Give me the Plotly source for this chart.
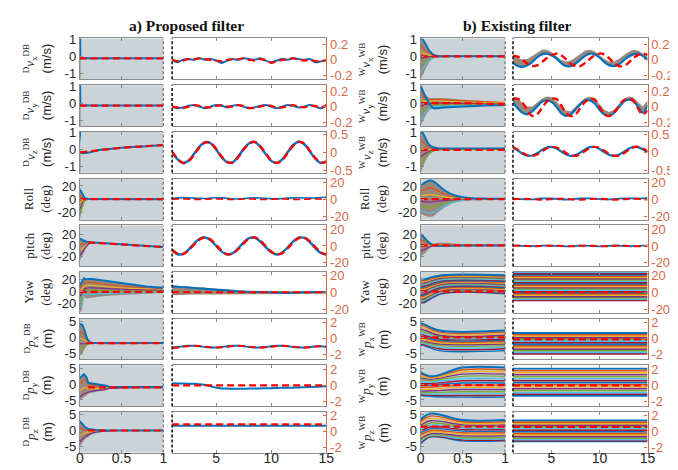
import plotly.graph_objects as go

# ======================= DATA =======================
TR = [1, 1.5, 2, 2.5, 3, 3.5, 4, 4.5, 5, 5.5, 6, 6.5, 7, 7.5, 8, 8.5, 9, 9.5, 10,
      10.5, 11, 11.5, 12, 12.5, 13, 13.5, 14, 14.5, 15]
T_FLAT_R = [1, 15]
T_FLAT_L = [0, 1]

row_left_range = [[-1.35, 1.05], [-1.35, 1.05], [-1.35, 1.05], [-31, 31], [-38, 36],
                  [-36, 33], [-7, 6], [-7, 6], [-7, 6]]
row_left_ticks = [[-1, 0, 1]] * 3 + [[-20, 0, 20]] * 3 + [[-5, 0, 5]] * 3
row_left_ticktext = [["-1", "0", "1"]] * 3 + [["-20", "0", "20"]] * 3 + [["-5", "0", "5"]] * 3
row_right_range = [[-0.25, 0.275], [-0.25, 0.275], [-0.58, 0.58], [-24, 24], [-25, 25],
                   [-24, 24], [-2.6, 2.5], [-2.6, 2.5], [-2.6, 2.5]]
row_right_ticks = [[-0.2, 0, 0.2]] * 2 + [[-0.5, 0, 0.5]] + [[-20, 0, 20]] * 3 + [[-2, 0, 2]] * 3
row_right_ticktext = [["-0.2", "0", "0.2"]] * 2 + [["-0.5", "0", "0.5"]] + \
                     [["-20", "0", "20"]] * 3 + [["-2", "0", "2"]] * 3
x_left_ticks = [0, 0.5, 1]
x_left_ticktext = ["0", "0.5", "1"]
x_right_ticks = [5, 10, 15]
x_right_ticktext = ["5", "10", "15"]

ylab_a = ["<sup>D</sup><i>v</i><sub>x</sub><sup>DB</sup>", "<sup>D</sup><i>v</i><sub>y</sub><sup>DB</sup>",
          "<sup>D</sup><i>v</i><sub>z</sub><sup>DB</sup>", "Roll", "pitch", "Yaw",
          "<sup>D</sup><i>p</i><sub>x</sub><sup>DB</sup>", "<sup>D</sup><i>p</i><sub>y</sub><sup>DB</sup>",
          "<sup>D</sup><i>p</i><sub>z</sub><sup>DB</sup>"]
ylab_b = ["<sup>W</sup><i>v</i><sub>x</sub><sup>WB</sup>", "<sup>W</sup><i>v</i><sub>y</sub><sup>WB</sup>",
          "<sup>W</sup><i>v</i><sub>z</sub><sup>WB</sup>", "Roll", "pitch", "Yaw",
          "<sup>W</sup><i>p</i><sub>x</sub><sup>WB</sup>", "<sup>W</sup><i>p</i><sub>y</sub><sup>WB</sup>",
          "<sup>W</sup><i>p</i><sub>z</sub><sup>WB</sup>"]
ylab_unit = ["(m/s)", "(m/s)", "(m/s)", "(deg)", "(deg)", "(deg)", "(m)", "(m)", "(m)"]
titles = ["a) Proposed filter", "b) Existing filter"]

# ---------- a) proposed filter, 0..1 s ----------
a_vx_t = [0, 0.004, 0.007, 1]
a_vx_blue = [1.05, 1.05, -0.12, -0.12]
a_vx_fan_t = [0, 0.009]
a_vx_fan_hi = [-0.12, -0.12]
a_vx_fan_lo = [-1.35, -1.35]
a_vx_red = [-0.12, -0.12]

a_vy_t = [0, 0.004, 0.007, 1]
a_vy_blue = [1.05, 1.05, -0.15, -0.15]
a_vy_fan_hi = [-0.15, -0.15]
a_vy_fan_lo = [-1.35, -1.35]
a_vy_red = [-0.15, -0.15]

a_vz_t = [0, 0.004, 0.007, 0.25, 0.5, 0.75, 1]
a_vz_blue = [1.05, 1.05, -0.15, 0.0, 0.12, 0.2, 0.28]
a_vz_fan_hi = [-0.15, -0.15]
a_vz_fan_lo = [-1.35, -1.35]

a_roll_t = [0, 0.02, 0.04, 0.06, 0.1, 1]
a_roll_hi = [15, 10, 5, 1.5, 0.3, 0]
a_roll_lo = [-30, -20, -10, -3, -0.3, 0]
a_roll_p = [[5, 3, 1.5, 0.5, 0, 0], [-5, -3, -1.5, -0.5, 0, 0],
            [-15, -10, -5, -1.5, -0.1, 0], [-22, -15, -7, -2, -0.2, 0]]

a_pitch_t = [0, 0.03, 0.07, 0.12, 0.5, 1]
a_pitch_blue = [12, 10, 7, 5.5, 2, -3]
a_pitch_fan_t = [0, 0.03, 0.07, 0.12]
a_pitch_hi = [12, 10, 7, 5.5]
a_pitch_lo = [-28, -20, -6, 4]
a_pitch_p = [[2, 2, 3, 5], [-8, -6, 0, 4.8], [-18, -13, -3, 4.4]]
a_pitch_red_t = [0.1, 0.5, 1]
a_pitch_red = [5.5, 2, -3]

a_yaw_t = [0, 0.02, 0.04, 0.05, 0.07, 0.1, 0.15, 0.2, 0.3, 0.4, 0.5, 0.6, 0.7, 0.8, 0.9, 1]
a_yaw_hi = [10, 14, 18, 22, 20, 21, 21, 20, 17, 15, 13, 11, 9.5, 8, 7, 6]
a_yaw_lo = [-36, -32, -20, -8, -12, -12, -11, -10, -8, -7, -6, -5, -4.5, -4, -3.5, -3]
a_yaw_p = [[5, 8, 12, 14, 14, 15, 15, 14, 12, 10.5, 9, 8, 7, 6, 5, 4.5],
           [0, 3, 6, 9, 9, 10, 10, 9.5, 8, 7, 6, 5, 4.5, 4, 3.5, 3],
           [-8, -5, 0, 3, 5, 6, 6, 5.5, 5, 4, 3.5, 3, 2.5, 2, 2, 1.5],
           [-15, -12, -6, 0, 1, 2, 2, 2, 1.5, 1, 1, 0.5, 0.5, 0.5, 0.5, 0.5],
           [-25, -22, -12, -4, -5, -5, -5, -4.5, -4, -3.5, -3, -2.5, -2.2, -2, -1.8, -1.5]]
a_yaw_red = [-1, -1]

a_px_t = [0, 0.03, 0.06, 0.09, 0.12, 0.15, 1]
a_px_hi = [4.3, 4.0, 2.0, -0.5, -1.5, -1.8, -1.8]
a_px_lo = [-5.8, -5, -3.5, -2.5, -2.0, -1.8, -1.8]
a_px_p = [[2, 1.5, 0.5, -1, -1.6, -1.8, -1.8], [0, -0.5, -1, -1.5, -1.8, -1.8, -1.8],
          [-2, -2, -2, -2, -1.9, -1.8, -1.8], [-4, -3.5, -2.8, -2.2, -1.9, -1.8, -1.8]]
a_px_red_t = [0.08, 1]
a_px_red = [-1.8, -1.8]

a_py_t = [0, 0.03, 0.05, 0.08, 0.1, 0.15, 0.2, 0.3, 0.32, 0.35, 0.5, 1]
a_py_hi = [2, 2.8, 3.2, 2.2, 0.5, 0.2, 0.0, -0.2, -0.5, -0.8, -0.9, -0.9]
a_py_lo = [-5, -4.5, -4, -3.5, -3, -2.6, -2.4, -2, -1.8, -1.5, -1.3, -1.1]
a_py_p = [[0, 1, 1.5, 1, 0, -0.3, -0.5, -0.6, -0.8, -0.9, -1.0, -1.0],
          [-2, -1.5, -1.2, -1.2, -1.5, -1.5, -1.4, -1.2, -1.1, -1.1, -1.1, -1.0],
          [-4, -3.5, -3, -2.8, -2.5, -2.2, -2.0, -1.7, -1.5, -1.3, -1.2, -1.1]]
a_py_red_t = [0.1, 1]
a_py_red = [-1.0, -1.0]

a_pz_t = [0, 0.03, 0.06, 0.1, 0.15, 0.2, 0.3, 0.5, 1]
a_pz_hi = [3, 2.2, 1.2, 0.5, 0.3, 0.15, 0.05, 0, 0]
a_pz_lo = [-5, -4, -2.8, -2, -1.2, -0.7, -0.3, -0.1, 0]
a_pz_p = [[1, 0.5, 0.2, 0, 0, 0, 0, 0, 0], [-1.5, -1.2, -0.8, -0.5, -0.3, -0.2, -0.1, 0, 0],
          [-3.5, -2.8, -2, -1.4, -0.8, -0.5, -0.2, -0.05, 0]]
a_pz_red_t = [0.1, 1]
a_pz_red = [0, 0]

# ---------- a) proposed filter, 1..15 s ----------
a_vx_r_blue = [0.0, -0.03, 0.0, 0.01, 0.0, 0.02, 0.0, 0.01, -0.01, -0.04, -0.01, 0.01, 0.0, 0.02, 0.01,
               0.0, 0.02, -0.01, -0.03, -0.01, 0.01, 0.0, 0.02, 0.01, 0.0, 0.01, -0.03, -0.02, 0.0]
a_vx_r_red = [0.0, -0.02, -0.01, 0.01, 0.01, 0.02, 0.01, 0.0, -0.01, -0.02, 0.0, 0.01, 0.01, 0.02, 0.0,
              -0.01, 0.01, 0.0, -0.04, -0.02, 0.0, 0.01, 0.02, 0.0, -0.01, 0.0, -0.02, -0.03, 0.0]
a_vy_r_blue = [0.0, -0.02, -0.01, 0.01, 0.02, 0.0, -0.02, 0.0, 0.02, 0.01, -0.01, 0.01, 0.02, 0.0, -0.02,
               -0.01, 0.01, 0.02, 0.0, -0.02, 0.0, 0.02, 0.01, -0.01, 0.0, 0.02, 0.0, -0.02, 0.01]
a_vy_r_red = [0.0, -0.01, -0.02, 0.0, 0.02, 0.01, -0.01, -0.01, 0.01, 0.02, 0.0, 0.0, 0.02, 0.01, -0.02,
              -0.02, 0.0, 0.02, 0.01, -0.02, -0.01, 0.01, 0.02, 0.0, -0.01, 0.01, 0.01, -0.02, 0.02]
a_vz_r_blue = [0.0, -0.20, -0.30, -0.23, -0.04, 0.17, 0.29, 0.26, 0.08, -0.14, -0.28, -0.28, -0.12, 0.10,
               0.26, 0.29, 0.16, -0.05, -0.24, -0.30, -0.20, 0.01, 0.21, 0.30, 0.23, 0.03, -0.18, -0.30, -0.25]
a_vz_r_red = [0.02, -0.18, -0.30, -0.25, -0.06, 0.15, 0.28, 0.27, 0.10, -0.12, -0.27, -0.29, -0.14, 0.08,
              0.25, 0.30, 0.18, -0.03, -0.22, -0.30, -0.22, -0.01, 0.19, 0.30, 0.25, 0.05, -0.16, -0.29, -0.27]
a_roll_r_blue = [1.0, 1.5, 1.8, 1.5, 1.2, 1.0, 0.8, 1.2, 1.6, 1.5, 1.0, 0.5, 0.3, 0.8, 1.2, 1.5, 1.4, 1.0,
                 0.6, 0.4, 0.8, 1.2, 1.5, 1.6, 1.4, 1.2, 1.5, 2.0, 2.2]
a_roll_r_red = [0.0, 0.2, 0.3, 0.1, -0.2, -0.3, -0.1, 0.2, 0.3, 0.1, -0.2, -0.3, -0.1, 0.2, 0.3, 0.1, -0.2,
                -0.3, -0.1, 0.2, 0.3, 0.1, -0.2, -0.3, -0.1, 0.2, 0.3, 0.1, -0.2]
a_pitch_r_blue = [-5.7, -10.1, -9.6, -4.4, 3.0, 8.8, 10.4, 6.9, 0.0, -6.9, -10.4, -8.8, -2.9, 4.4, 9.6,
                  10.1, 5.4, -1.5, -7.7, -10.5, -8.0, -1.6, 5.5, 10.0, 9.8, 4.7, -2.6, -8.6, -10.4]
a_pitch_r_red = [-4.5, -9.5, -10.0, -5.5, 1.8, 8.0, 10.4, 7.8, 1.2, -5.8, -10.0, -9.4, -4.0, 3.2, 9.0,
                 10.4, 6.5, -0.3, -6.8, -10.3, -8.8, -2.8, 4.5, 9.6, 10.2, 5.8, -1.4, -7.8, -10.4]
a_yaw_r_hi = [8, 7.5, 7, 6.5, 6, 5.5, 5, 4.5, 4, 3.5, 3, 2.6, 2.2, 2, 1.8, 1.6, 1.5, 1.5, 1.4, 1.3, 1.2,
              1.2, 1.2, 1.1, 1.0, 1.0, 1.0, 1.0, 1.0]
a_yaw_r_lo = [-3.5, -3.4, -3.2, -3, -2.8, -2.6, -2.5, -2.4, -2.3, -2.2, -2.1, -2, -2, -1.9, -1.9, -1.8,
              -1.8, -1.8, -1.8, -1.8, -1.8, -1.8, -1.8, -1.8, -1.8, -1.8, -1.8, -1.8, -1.8]
a_yaw_r_blue = [7, 6.5, 6, 5.5, 5, 4.5, 4, 3.5, 3, 2.5, 2, 1.5, 1, 0.5, 0.2, 0.0, 0.3, 0.2, -0.3, -0.6,
                -0.8, -1.0, -0.8, -0.3, 0.0, 0.0, 0.3, 0.2, 0.0]
a_yaw_r_red = [0, 0]
a_px_r_blue = [-1.1, -1.05, -0.95, -0.9, -0.9, -0.95, -1.05, -1.1, -1.1, -1.05, -0.95, -0.9, -0.9, -0.95,
               -1.05, -1.1, -1.1, -1.05, -0.95, -0.9, -0.9, -0.95, -1.05, -1.1, -1.1, -1.05, -0.95, -0.95, -1.0]
a_px_r_red = [-1.15, -1.1, -1.0, -0.92, -0.88, -0.92, -1.0, -1.08, -1.12, -1.08, -1.0, -0.92, -0.88, -0.92,
              -1.0, -1.08, -1.12, -1.08, -1.0, -0.92, -0.88, -0.92, -1.0, -1.08, -1.12, -1.08, -1.0, -0.95, -1.0]
a_py_r_blue = [0.25, 0.25, 0.22, 0.2, 0.2, 0.15, 0.05, -0.1, -0.3, -0.38, -0.4, -0.42, -0.42, -0.42, -0.4,
               -0.4, -0.38, -0.36, -0.35, -0.32, -0.3, -0.3, -0.28, -0.25, -0.22, -0.2, -0.18, -0.15, -0.12]
a_py_r_red = [0, 0]
a_pz_r_blue = [0.75, 0.75]
a_pz_r_red = [0.9, 0.9]

# ---------- b) existing filter, 0..1 s ----------
b_vx_t = [0, 0.03, 0.06, 0.1, 0.15, 0.2, 0.3, 0.5, 1]
b_vx_hi = [1.1, 0.85, 0.55, 0.3, 0.12, 0.05, 0.02, 0.01, 0.0]
b_vx_lo = [-1.35, -1.0, -0.7, -0.35, -0.12, -0.05, -0.02, -0.01, 0]
b_vx_blue = [1.1, 0.95, 0.7, 0.35, 0.1, 0.02, 0.0, 0.0, 0.0]
b_vx_p = [[0.7, 0.5, 0.33, 0.18, 0.07, 0.03, 0.01, 0, 0], [0.3, 0.2, 0.14, 0.08, 0.03, 0.01, 0, 0, 0],
          [-0.1, -0.08, -0.05, -0.03, -0.01, 0, 0, 0, 0], [-0.5, -0.38, -0.25, -0.13, -0.05, -0.02, 0, 0, 0],
          [-0.9, -0.7, -0.48, -0.25, -0.09, -0.03, -0.01, 0, 0]]
b_vx_red = [0, 0]

b_vy_t = [0, 0.05, 0.1, 0.15, 0.2, 0.3, 0.5, 0.75, 1]
b_vy_hi = [1.0, 0.55, 0.3, 0.3, 0.3, 0.28, 0.2, 0.12, 0.05]
b_vy_lo = [-1.3, -0.8, -0.4, -0.3, -0.28, -0.25, -0.2, -0.15, -0.12]
b_vy_blue = [1.0, 0.45, 0.0, -0.3, -0.3, -0.25, -0.2, -0.15, -0.12]
b_vy_p = [[0.6, 0.3, 0.2, 0.22, 0.22, 0.2, 0.14, 0.08, 0.02], [0.2, 0.1, 0.1, 0.12, 0.12, 0.1, 0.06, 0.02, -0.02],
          [-0.2, -0.1, -0.05, 0.0, 0.0, 0.0, -0.02, -0.04, -0.06],
          [-0.6, -0.35, -0.2, -0.12, -0.12, -0.1, -0.1, -0.08, -0.08],
          [-1.0, -0.6, -0.32, -0.22, -0.2, -0.18, -0.15, -0.12, -0.1]]
b_vy_red_t = [0, 0.5, 1]
b_vy_red = [0, 0, -0.08]

b_vz_t = [0, 0.03, 0.06, 0.1, 0.15, 0.2, 0.3, 0.5, 1]
b_vz_hi = [1.1, 0.9, 0.6, 0.3, 0.15, 0.1, 0.08, 0.08, 0.08]
b_vz_lo = [-1.35, -1.0, -0.6, -0.3, -0.1, -0.02, 0.0, 0.0, 0.0]
b_vz_blue = [1.1, 0.95, 0.65, 0.3, 0.15, 0.1, 0.08, 0.08, 0.08]
b_vz_p = [[0.6, 0.45, 0.3, 0.15, 0.08, 0.06, 0.05, 0.05, 0.05], [0.1, 0.05, 0.02, 0.0, 0.02, 0.03, 0.03, 0.03, 0.03],
          [-0.4, -0.3, -0.2, -0.1, -0.02, 0.01, 0.02, 0.02, 0.02],
          [-0.9, -0.7, -0.42, -0.2, -0.06, 0.0, 0.01, 0.01, 0.01]]
b_vz_red = [0, 0]

b_roll_t = [0, 0.05, 0.1, 0.15, 0.2, 0.3, 0.4, 0.5, 0.6, 0.8, 1]
b_roll_hi = [20, 25, 28, 27, 22, 12, 6, 3, 1.5, 0.8, 0.5]
b_roll_lo = [-22, -25, -27, -26, -20, -11, -5, -2.5, -1, -0.3, 0]
b_roll_p = [[12, 15, 17, 16, 13, 7, 3.5, 1.8, 0.9, 0.5, 0.3], [5, 6, 7, 6.5, 5, 3, 1.5, 0.8, 0.4, 0.2, 0.1],
            [-3, -4, -4, -4, -3, -2, -1, -0.5, -0.2, 0, 0], [-10, -12, -13, -12, -10, -6, -3, -1.5, -0.6, -0.2, 0],
            [-17, -19, -21, -20, -16, -9, -4, -2, -0.8, -0.3, 0]]
b_roll_red = [0, 0]

b_pitch_t = [0, 0.05, 0.1, 0.15, 0.2, 0.3, 0.4, 0.6, 1]
b_pitch_hi = [20, 14, 6, 3, 5, 5, 3.5, 1.5, 0.5]
b_pitch_lo = [-20, -14, -6, -1, -1.5, -1.5, -1, -0.5, 0]
b_pitch_blue = [20, 13, 5, 0, -0.5, -0.5, -0.3, 0, 0]
b_pitch_p = [[10, 7, 3, 1, 2, 2, 1.5, 0.8, 0.3], [0, 0, 0, 0.5, 1, 1, 0.8, 0.4, 0.1],
             [-10, -7, -3, -0.5, -0.8, -0.8, -0.5, -0.2, 0]]
b_pitch_red = [0, 0]

# particle lines of the existing filter: value at start, at a mid time, and settled value
b_yaw_path_t = [0, 0.03, 0.25, 1]
b_yaw_start = [20, 18, 16, 14, 12.5, 11, 9, 7, 5, 3, 1.5, -0.5, -2.5, -4.5, -6.5, -8.5, -10.5, -12.5, -14, -16, -18, -20]
b_yaw_mid = [20, 18, 16, 14, 12.5, 11, 9, 7, 5, 3, 1.5, -0.5, -2.5, -4.5, -6.5, -8.5, -10.5, -12.5, -14, -16, -18, -20]
b_yaw_end = [27, 25.5, 24, 22.5, 21, 19.5, 18, 16.5, 15, 13.5, 12, 10.5, 9, 7.5, 6, 4.5, 3, 1.5, 0, -1.5, -3, -4]
b_yaw_red = [0, 0]

b_px_path_t = [0, 0.03, 0.22, 1]
b_px_start = [4.5, 3.8, 3.2, 2.6, 2.0, 1.4, 0.9, 0.4, -0.1, -0.6, -1.0, -1.4, -1.8, -2.1, -2.4]
b_px_mid = [4.3, 3.7, 3.1, 2.5, 1.9, 1.3, 0.8, 0.3, -0.2, -0.7, -1.1, -1.5, -1.9, -2.2, -2.5]
b_px_end = [2.2, 1.7, 1.2, 0.7, 0.3, -0.1, -0.5, -0.9, -1.3, -1.7, -2.1, -2.6, -3.1, -3.6, -4.2]
b_px_red = [0, 0]

b_py_path_t = [0, 0.13, 0.5, 1]
b_py_start = [3.8, 3.2, 2.6, 2.0, 1.4, 0.8, 0.2, -0.4, -1.0, -1.6, -2.2, -2.6, -3.0, -3.3, -3.6]
b_py_mid = [2.5, 2.3, 2.0, 1.6, 1.2, 0.7, 0.2, -0.3, -0.9, -1.5, -2.1, -2.6, -3.1, -3.5, -3.9]
b_py_end = [5.3, 4.6, 3.9, 3.2, 2.5, 1.8, 1.1, 0.4, -0.3, -1.0, -1.7, -2.4, -3.0, -3.6, -4.1]
b_py_red = [-0.3, -0.3]

b_pz_path_t = [0, 0.12, 0.5, 1]
b_pz_start = [3.5, 2.8, 2.2, 1.6, 1.0, 0.4, -0.2, -0.8, -1.4, -2.0, -2.6, -3.1, -3.5, -3.9, -4.2]
b_pz_mid = [5.4, 4.6, 3.8, 3.1, 2.4, 1.8, 1.2, 0.6, 0.0, -0.5, -1.0, -1.4, -1.7, -1.9, -2.0]
b_pz_end = [3.3, 2.8, 2.3, 1.8, 1.3, 0.8, 0.3, -0.2, -0.7, -1.2, -1.7, -2.2, -2.6, -3.0, -3.3]
b_pz_red = [1.2, 1.2]

# ---------- b) existing filter, 1..15 s ----------
b_vx_r_blue = [-0.04, -0.08, -0.09, -0.07, -0.03, 0.03, 0.07, 0.08, 0.06, 0.02, -0.04, -0.08, -0.08, -0.05,
               0.0, 0.05, 0.08, 0.07, 0.03, -0.03, -0.07, -0.08, -0.06, -0.01, 0.04, 0.07, 0.08, 0.05, 0.0]
b_vx_r_hi = [0.05, 0.02, 0.0, 0.01, 0.05, 0.1, 0.13, 0.13, 0.1, 0.05, 0.0, -0.02, -0.01, 0.03, 0.08, 0.12,
             0.13, 0.11, 0.06, 0.01, -0.02, -0.02, 0.01, 0.06, 0.1, 0.13, 0.12, 0.08, 0.04]
b_vx_r_red = [0.05, 0.04, 0.0, -0.05, -0.08, -0.07, -0.03, 0.02, 0.06, 0.08, 0.06, 0.01, -0.05, -0.08, -0.08,
              -0.04, 0.01, 0.06, 0.08, 0.07, 0.02, -0.04, -0.08, -0.08, -0.04, 0.02, 0.06, 0.08, 0.06]
b_vy_r_blue = [0.05, -0.02, -0.08, -0.1, -0.06, 0.0, 0.06, 0.08, 0.06, 0.0, -0.08, -0.12, -0.1, -0.04, 0.03,
               0.08, 0.08, 0.04, -0.04, -0.1, -0.12, -0.08, -0.01, 0.06, 0.09, 0.07, 0.0, -0.08, 0.02]
b_vy_r_hi = [0.12, 0.1, 0.05, 0.0, 0.0, 0.05, 0.1, 0.13, 0.12, 0.07, 0.0, -0.05, -0.06, 0.0, 0.06, 0.11, 0.13,
             0.1, 0.03, -0.04, -0.07, -0.04, 0.03, 0.09, 0.13, 0.12, 0.06, 0.0, 0.08]
b_vy_r_red = [0.1, 0.1, 0.05, -0.05, -0.12, -0.1, -0.02, 0.06, 0.1, 0.1, 0.02, -0.08, -0.12, -0.1, -0.02,
              0.06, 0.1, 0.09, 0.0, -0.1, -0.12, -0.08, 0.0, 0.08, 0.1, 0.08, -0.02, -0.1, -0.05]
b_vz_r_blue = [0.13, 0.05, -0.04, -0.095, -0.088, -0.024, 0.067, 0.14, 0.159, 0.115, 0.03, -0.056, -0.099,
               -0.078, -0.005, 0.086, 0.148, 0.154, 0.095, 0.01, -0.066, -0.1, -0.07, 0.012, 0.098, 0.155,
               0.151, 0.087, -0.001]
b_vz_r_red = [0.15, 0.08, -0.01, -0.08, -0.1, -0.06, 0.02, 0.11, 0.16, 0.14, 0.08, -0.01, -0.08, -0.1, -0.05,
              0.04, 0.12, 0.16, 0.13, 0.05, -0.04, -0.09, -0.09, -0.03, 0.06, 0.14, 0.16, 0.11, 0.03]
b_roll_r_blue = [0.5, 0.3, 0.0, -0.3, -0.2, 0.3, 0.8, 1.0, 0.8, 0.3, -0.2, -0.4, -0.2, 0.3, 0.8, 1.0, 0.8,
                 0.4, 0.0, -0.3, -0.3, 0.1, 0.6, 1.0, 1.0, 0.8, 0.6, 1.0, 1.5]
b_roll_r_red = [0.0, 0.2, 0.4, 0.3, 0.0, -0.4, -0.6, -0.4, 0.0, 0.4, 0.5, 0.3, -0.1, -0.5, -0.6, -0.3, 0.2,
                0.5, 0.5, 0.2, -0.3, -0.6, -0.5, -0.1, 0.3, 0.5, 0.4, 0.0, -0.3]
b_pitch_r_blue = [0.5, 0.3, 0, -0.3, -0.3, 0, 0.3, 0.5, 0.3, 0, -0.3, -0.4, -0.2, 0.2, 0.5, 0.4, 0, -0.3,
                  -0.4, -0.2, 0.2, 0.5, 0.4, 0, -0.3, -0.3, 0, 0.3, 0.4]
b_pitch_r_red = [0.2, 0.4, 0.3, 0.0, -0.3, -0.4, -0.2, 0.2, 0.4, 0.3, 0.0, -0.3, -0.4, -0.2, 0.2, 0.4, 0.3,
                 0.0, -0.3, -0.4, -0.2, 0.2, 0.4, 0.3, 0.0, -0.3, -0.4, -0.2, 0.2]
b_yaw_r_levels = [25, 23.5, 22, 20.5, 19, 17.5, 16, 14.5, 13, 11.5, 10, 8.5, 7, 5.5, 4, 2.5, 1, -0.5, -2,
                  -3.5, -5, -6.5, -8, -9.5]
b_px_r_levels = [0.7, 0.5, 0.3, 0.1, -0.1, -0.3, -0.5, -0.7, -0.9, -1.1, -1.3, -1.5, -1.7, -1.9]
b_px_r_red = [-0.1, -0.1]
b_py_r_levels = [2.1, 1.85, 1.6, 1.35, 1.1, 0.85, 0.6, 0.35, 0.1, -0.15, -0.4, -0.65, -0.9, -1.1, -1.3]
b_py_r_red = [0, 0]
b_pz_r_levels = [1.4, 1.2, 1.0, 0.8, 0.6, 0.4, 0.2, 0.0, -0.2, -0.4, -0.6, -0.8, -1.0, -1.1, -1.2]
b_pz_r_red = [0.6, 0.6]

# ======================= STYLE / LAYOUT =======================
W, H = 678, 470
MC = ['#0072BD', '#D95319', '#EDB120', '#7E2F8E', '#77AC30', '#4DBEEE', '#A2142F']
BLUE = '#0072BD'
RED = '#FF0000'
BAND = '#9A897A'
PANEL_BG = '#C9D3D8'
RCOL = '#D4694A'
FRAME = '#8C8C8C'
TXT = '#262626'
COLX = [(69, 154), (163, 320), (416, 502), (510, 647)]
ROW_TOP = [24, 72, 120, 168, 216, 263.5, 311.5, 359.5, 407]
ROW_H = 42
RED_DASH = '7px,4px'
TICKFONT = 13

fig = go.Figure()


def axn(r, c):
    i = r * 4 + c + 1
    return ('x' if i == 1 else f'x{i}'), ('y' if i == 1 else f'y{i}'), i


def line(r, c, x, y, color, width=1.6, dash=None, shape='linear'):
    xa, ya, _ = axn(r, c)
    fig.add_trace(go.Scatter(x=x, y=y, mode='lines', xaxis=xa, yaxis=ya, showlegend=False, hoverinfo='skip',
                             line=dict(color=color, width=width, dash=dash, shape=shape)))


def band(r, c, x, lo, hi, color=BAND):
    xa, ya, _ = axn(r, c)
    fig.add_trace(go.Scatter(x=list(x) + list(x)[::-1], y=list(hi) + list(lo)[::-1], mode='lines',
                             fill='toself', fillcolor=color, line=dict(width=0, color=color),
                             xaxis=xa, yaxis=ya, showlegend=False, hoverinfo='skip'))


def particles(r, c, x, plist, width=1.2, offset=1):
    for k, p in enumerate(plist):
        line(r, c, x, p, MC[(k + offset) % 7], width, shape='spline')


def redline(r, c, x, y):
    line(r, c, x, y, RED, 2.2, RED_DASH)


# ---- column a, left ----
band(0, 0, a_vx_fan_t, a_vx_fan_lo, a_vx_fan_hi)
line(0, 0, a_vx_t, a_vx_blue, BLUE, 2)
redline(0, 0, T_FLAT_L, a_vx_red)
band(1, 0, a_vx_fan_t, a_vy_fan_lo, a_vy_fan_hi)
line(1, 0, a_vy_t, a_vy_blue, BLUE, 2)
redline(1, 0, T_FLAT_L, a_vy_red)
band(2, 0, a_vx_fan_t, a_vz_fan_lo, a_vz_fan_hi)
line(2, 0, a_vz_t, a_vz_blue, BLUE, 2, shape='spline')
redline(2, 0, a_vz_t[2:], a_vz_blue[2:])
band(3, 0, a_roll_t, a_roll_lo, a_roll_hi)
particles(3, 0, a_roll_t, a_roll_p)
line(3, 0, a_roll_t, a_roll_hi, BLUE, 2)
redline(3, 0, T_FLAT_L, [0, 0])
band(4, 0, a_pitch_fan_t, a_pitch_lo, a_pitch_hi)
particles(4, 0, a_pitch_fan_t, a_pitch_p)
line(4, 0, a_pitch_t, a_pitch_blue, BLUE, 2)
redline(4, 0, a_pitch_red_t, a_pitch_red)
band(5, 0, a_yaw_t, a_yaw_lo, a_yaw_hi)
particles(5, 0, a_yaw_t, a_yaw_p)
line(5, 0, a_yaw_t, a_yaw_hi, BLUE, 2)
redline(5, 0, T_FLAT_L, a_yaw_red)
band(6, 0, a_px_t, a_px_lo, a_px_hi)
particles(6, 0, a_px_t, a_px_p)
line(6, 0, a_px_t, a_px_hi, BLUE, 2)
redline(6, 0, a_px_red_t, a_px_red)
band(7, 0, a_py_t, a_py_lo, a_py_hi)
particles(7, 0, a_py_t, a_py_p)
line(7, 0, a_py_t, a_py_hi, BLUE, 2)
redline(7, 0, a_py_red_t, a_py_red)
band(8, 0, a_pz_t, a_pz_lo, a_pz_hi)
particles(8, 0, a_pz_t, a_pz_p)
line(8, 0, a_pz_t, a_pz_hi, BLUE, 2)
redline(8, 0, a_pz_red_t, a_pz_red)

# ---- column a, right ----
line(0, 1, TR, a_vx_r_blue, BLUE, 2, shape='spline')
redline(0, 1, TR, a_vx_r_red)
line(1, 1, TR, a_vy_r_blue, BLUE, 2, shape='spline')
redline(1, 1, TR, a_vy_r_red)
line(2, 1, TR, a_vz_r_blue, BLUE, 2.4, shape='spline')
line(2, 1, TR, a_vz_r_red, RED, 2.4, RED_DASH, shape='spline')
line(3, 1, TR, a_roll_r_blue, BLUE, 1.6, shape='spline')
line(3, 1, TR, a_roll_r_red, RED, 1.6, RED_DASH, shape='spline')
line(4, 1, TR, a_pitch_r_blue, BLUE, 2.4, shape='spline')
line(4, 1, TR, a_pitch_r_red, RED, 2.4, RED_DASH, shape='spline')
band(5, 1, TR, a_yaw_r_lo, a_yaw_r_hi)
line(5, 1, TR, a_yaw_r_blue, BLUE, 2, shape='spline')
redline(5, 1, T_FLAT_R, a_yaw_r_red)
line(6, 1, TR, a_px_r_blue, BLUE, 2, shape='spline')
line(6, 1, TR, a_px_r_red, RED, 2, RED_DASH, shape='spline')
line(7, 1, TR, a_py_r_blue, BLUE, 2, shape='spline')
redline(7, 1, T_FLAT_R, a_py_r_red)
line(8, 1, T_FLAT_R, a_pz_r_blue, BLUE, 2)
redline(8, 1, T_FLAT_R, a_pz_r_red)

# ---- column b, left ----
for r, (t, lo, hi, p, bl, red) in enumerate([
        (b_vx_t, b_vx_lo, b_vx_hi, b_vx_p, b_vx_blue, b_vx_red),
        (b_vy_t, b_vy_lo, b_vy_hi, b_vy_p, b_vy_blue, None),
        (b_vz_t, b_vz_lo, b_vz_hi, b_vz_p, b_vz_blue, b_vz_red),
        (b_roll_t, b_roll_lo, b_roll_hi, b_roll_p, b_roll_hi, b_roll_red),
        (b_pitch_t, b_pitch_lo, b_pitch_hi, b_pitch_p, b_pitch_blue, b_pitch_red)]):
    band(r, 2, t, lo, hi)
    particles(r, 2, t, p)
    line(r, 2, t, bl, BLUE, 2, shape='spline')
    if red is None:
        redline(r, 2, b_vy_red_t, b_vy_red)
    else:
        redline(r, 2, T_FLAT_L, red)

for r, (pt, s, m, e, red) in [(5, (b_yaw_path_t, b_yaw_start, b_yaw_mid, b_yaw_end, b_yaw_red)),
                              (6, (b_px_path_t, b_px_start, b_px_mid, b_px_end, b_px_red)),
                              (7, (b_py_path_t, b_py_start, b_py_mid, b_py_end, b_py_red)),
                              (8, (b_pz_path_t, b_pz_start, b_pz_mid, b_pz_end, b_pz_red))]:
    for k in range(len(s) - 1, -1, -1):
        line(r, 2, pt, [s[k], m[k], e[k], e[k]], MC[k % 7], 2.0 if k == 0 else 1.4, shape='spline')
    redline(r, 2, T_FLAT_L, red)

# ---- column b, right ----
band(0, 3, TR, b_vx_r_blue, b_vx_r_hi)
line(0, 3, TR, b_vx_r_blue, BLUE, 2.2, shape='spline')
line(0, 3, TR, b_vx_r_red, RED, 2.4, RED_DASH, shape='spline')
band(1, 3, TR, b_vy_r_blue, b_vy_r_hi)
line(1, 3, TR, b_vy_r_blue, BLUE, 2.2, shape='spline')
line(1, 3, TR, b_vy_r_red, RED, 2.4, RED_DASH, shape='spline')
line(2, 3, TR, b_vz_r_blue, BLUE, 2.2, shape='spline')
line(2, 3, TR, b_vz_r_red, RED, 2.2, RED_DASH, shape='spline')
line(3, 3, TR, b_roll_r_blue, BLUE, 1.8, shape='spline')
line(3, 3, TR, b_roll_r_red, RED, 2, RED_DASH, shape='spline')
line(4, 3, TR, b_pitch_r_blue, BLUE, 1.8, shape='spline')
line(4, 3, TR, b_pitch_r_red, RED, 2, RED_DASH, shape='spline')
for r, levels, red, off in [(5, b_yaw_r_levels, [0, 0], 4), (6, b_px_r_levels, b_px_r_red, 0),
                            (7, b_py_r_levels, b_py_r_red, 0), (8, b_pz_r_levels, b_pz_r_red, 0)]:
    for k in range(len(levels) - 1, -1, -1):
        line(r, 3, T_FLAT_R, [levels[k], levels[k]], MC[(k + off) % 7], 1.8)
    redline(r, 3, T_FLAT_R, red)

# ---- axes ----
layout = {}
shapes = []
for r in range(9):
    for c in range(4):
        xa, ya, i = axn(r, c)
        xk = 'xaxis' if i == 1 else f'xaxis{i}'
        yk = 'yaxis' if i == 1 else f'yaxis{i}'
        top = ROW_TOP[r]
        xd = [COLX[c][0] / W, COLX[c][1] / W]
        yd = [1 - (top + ROW_H) / H, 1 - top / H]
        left = c in (0, 2)
        last = (r == 8)
        xt = x_left_ticks if left else x_right_ticks
        xtt = x_left_ticktext if left else x_right_ticktext
        layout[xk] = dict(domain=xd, anchor=ya, range=[0, 1] if left else [1, 15], tickvals=xt,
                          ticktext=xtt, showticklabels=last, ticks='inside', ticklen=3, ticklabelstandoff=-7,
                          tickcolor=FRAME, showline=True, linecolor=FRAME, linewidth=1, mirror='ticks',
                          showgrid=False, zeroline=False, fixedrange=True,
                          tickfont=dict(family='Liberation Sans, Arial', size=14, color=TXT))
        if left:
            layout[yk] = dict(domain=yd, anchor=xa, range=row_left_range[r], tickvals=row_left_ticks[r],
                              ticktext=row_left_ticktext[r], ticks='inside', ticklen=3, tickcolor=FRAME,
                              showline=True, linecolor=FRAME, linewidth=1, showgrid=False, zeroline=False,
                              tickfont=dict(family='Liberation Sans, Arial', size=TICKFONT, color=TXT))
            shapes.append(dict(type='rect', xref=xa + ' domain', yref=ya + ' domain', x0=0, x1=1, y0=0, y1=1,
                               fillcolor=PANEL_BG, line=dict(width=0), layer='below'))
            shapes.append(dict(type='line', xref=xa + ' domain', yref=ya + ' domain', x0=1, x1=1, y0=0, y1=1,
                               line=dict(color='#6E6E6E', width=1.2, dash='3px,2px')))
        else:
            layout[yk] = dict(domain=yd, anchor=xa, side='right', range=row_right_range[r],
                              tickvals=row_right_ticks[r], ticktext=row_right_ticktext[r], ticks='inside',
                              ticklen=3, tickcolor=RCOL, showline=True, linecolor=RCOL, linewidth=1.3,
                              showgrid=False, zeroline=False,
                              tickfont=dict(family='Liberation Sans, Arial', size=TICKFONT, color=RCOL))
            shapes.append(dict(type='line', xref=xa + ' domain', yref=ya + ' domain', x0=0, x1=0, y0=0, y1=1,
                               line=dict(color='#1A1A1A', width=1.6, dash='3px,2px')))

annotations = []
for r in range(9):
    yc = 1 - (ROW_TOP[r] + ROW_H / 2) / H
    unit_font = 'Liberation Serif' if ylab_unit[r] == '(deg)' else 'Liberation Sans'
    for xc, lab in [(26, ylab_a[r]), (368, ylab_b[r])]:
        annotations.append(dict(x=xc / W, y=yc, xref='paper', yref='paper', showarrow=False, textangle=-90,
                                xanchor='center', yanchor='middle',
                                text=f'{lab}<br><span style="font-family:{unit_font}">{ylab_unit[r]}</span>',
                                font=dict(family='Liberation Serif', size=13, color=TXT)))
for xc, t in [(178, titles[0]), (515, titles[1])]:
    annotations.append(dict(x=xc / W, y=1 - 11 / H, xref='paper', yref='paper', showarrow=False,
                            xanchor='center', yanchor='middle', text=f'<b>{t}</b>',
                            font=dict(family='Liberation Serif', size=15.5, color='#111111')))

fig.update_layout(width=W, height=H, margin=dict(l=0, r=0, t=0, b=0), paper_bgcolor='white',
                  plot_bgcolor='rgba(0,0,0,0)', showlegend=False, shapes=shapes, annotations=annotations,
                  **layout)
fig.write_html("out.html")
